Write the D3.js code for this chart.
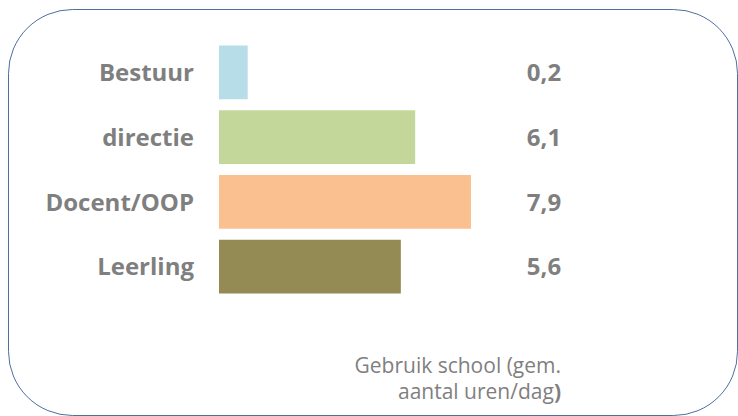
<!DOCTYPE html>
<html>
<head>
<meta charset="utf-8">
<script src="https://cdn.jsdelivr.net/npm/d3@7"></script>
<style>
  html, body { margin: 0; padding: 0; background: #fff; }
  svg text { font-family: "Open Sans", "Liberation Sans", sans-serif; fill: #7f7f7f; }
</style>
</head>
<body>
<div id="chart"></div>
<script>
// categories, shown labels and bar lengths
const categories = ["Bestuur", "directie", "Docent/OOP", "Leerling"];
const valueLabels = ["0,2", "6,1", "7,9", "5,6"];
const barLengths = [0.9, 6.15, 7.9, 5.7];
const barColors = ["#b7dde8", "#c4d79b", "#fac090", "#948a54"];
const noteLines = ["Gebruik school (gem.", "aantal uren/dag"];

{
  const width = 738, height = 416;

  const svg = d3.select("#chart")
    .append("svg")
    .attr("width", width)
    .attr("height", height);

  // rounded frame
  svg.append("rect")
    .attr("x", 8.5).attr("y", 9.5)
    .attr("width", 729).attr("height", 406)
    .attr("rx", 64).attr("ry", 64)
    .attr("fill", "none")
    .attr("stroke", "#4f6fa0")
    .attr("stroke-width", 1);

  const x = d3.scaleLinear()
    .domain([0, 7.9])
    .range([219, 471]);

  const y = d3.scaleBand()
    .domain(categories)
    .range([40, 299])
    .paddingInner(0.17)
    .paddingOuter(0.085);

  const rows = svg.append("g").selectAll("g")
    .data(categories)
    .enter().append("g");

  rows.append("rect")
    .attr("x", x(0))
    .attr("y", d => y(d))
    .attr("width", (d, i) => x(barLengths[i]) - x(0))
    .attr("height", y.bandwidth())
    .attr("fill", (d, i) => barColors[i]);

  rows.append("text")
    .attr("x", 194)
    .attr("y", d => y(d) + y.bandwidth() / 2)
    .attr("dy", "0.36em")
    .attr("text-anchor", "end")
    .style("font-size", "24px")
    .style("font-weight", 700)
    .text(d => d);

  rows.append("text")
    .attr("x", 544)
    .attr("y", d => y(d) + y.bandwidth() / 2)
    .attr("dy", "0.36em")
    .attr("text-anchor", "middle")
    .style("font-size", "24px")
    .style("font-weight", 700)
    .text((d, i) => valueLabels[i]);

  // footnote
  const note = svg.append("g").style("font-size", "21px");
  note.append("text")
    .attr("x", 561).attr("y", 373)
    .attr("text-anchor", "end")
    .text(noteLines[0]);
  const line2 = note.append("text")
    .attr("x", 561).attr("y", 399)
    .attr("text-anchor", "end");
  line2.append("tspan").text(noteLines[1]);
  line2.append("tspan").style("font-weight", 700).text(")");
}
</script>
</body>
</html>
